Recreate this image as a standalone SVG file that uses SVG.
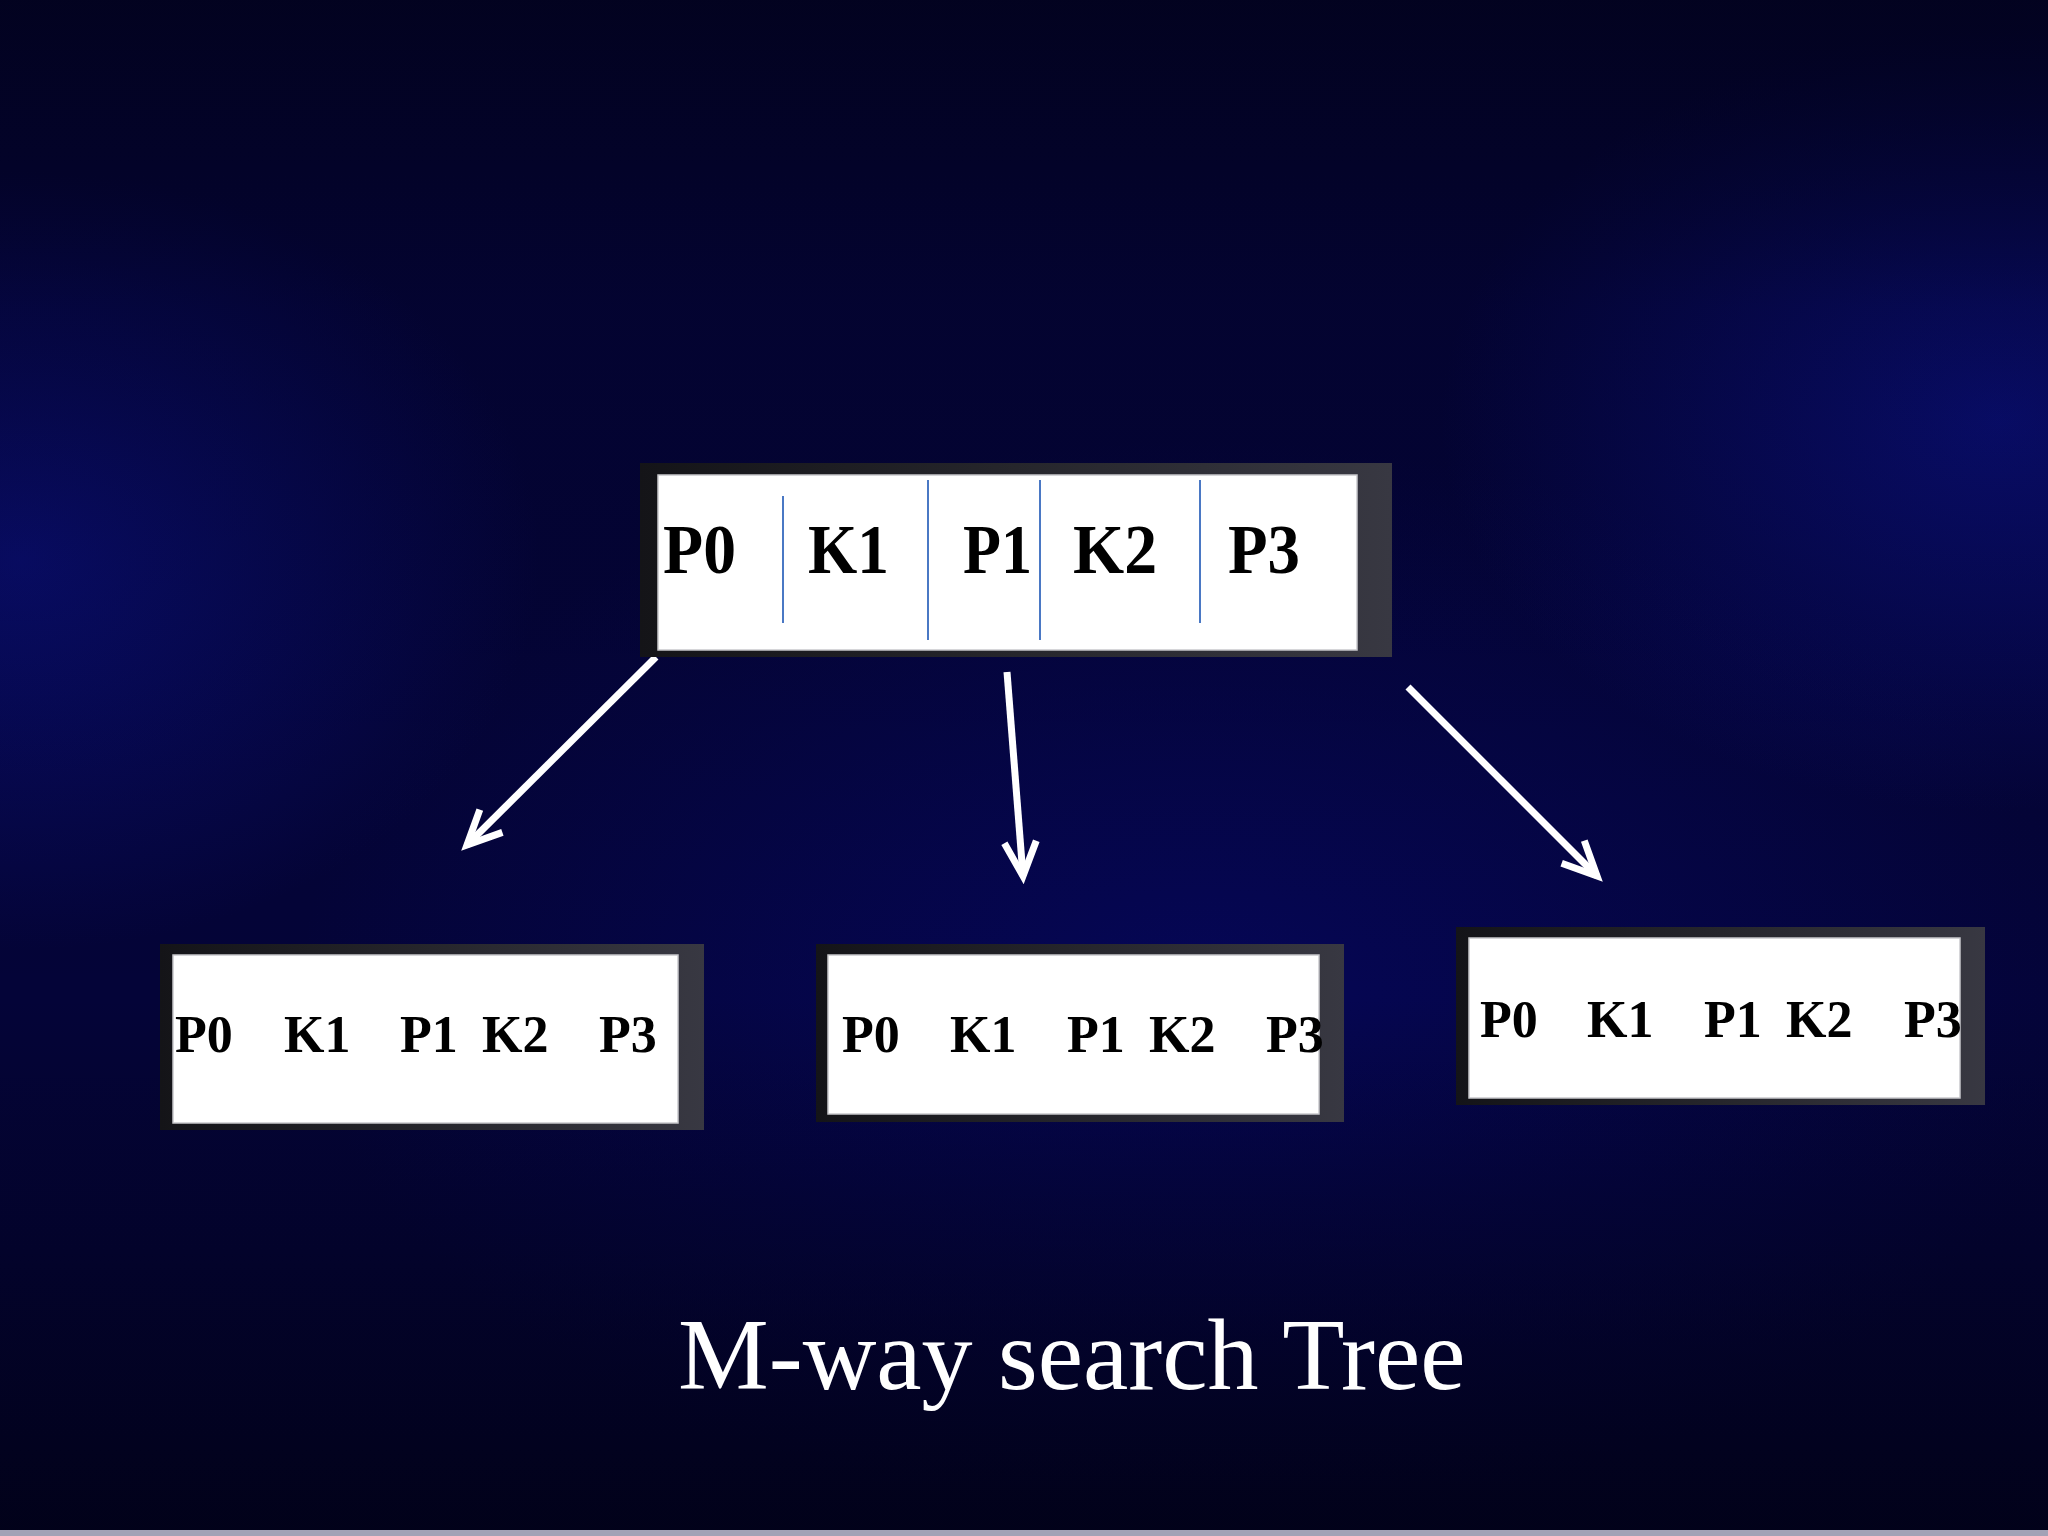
<svg xmlns="http://www.w3.org/2000/svg" width="2048" height="1536" viewBox="0 0 2048 1536">
  <defs>
    <style>
      .frame { fill: url(#frameGrad); }
      .inner { fill: #ffffff; stroke: #c8c8cc; stroke-width: 1.5; }
      .lbl { font-family: "Liberation Serif", "Times New Roman", serif; font-weight: bold; fill: #000000; }
      .top { font-size: 70px; }
      .child { font-size: 52px; }
      .sep { stroke: #4a78c4; stroke-width: 2; }
      .conn { stroke: #ffffff; stroke-width: 7; fill: none; marker-end: url(#arrowHead); }
      .title { font-family: "Liberation Serif", "Times New Roman", serif; font-size: 102px; fill: #ffffff; }
    </style>
    <linearGradient id="frameGrad" x1="0" y1="0" x2="1" y2="0">
      <stop offset="0" stop-color="#141418"/>
      <stop offset="0.5" stop-color="#26262c"/>
      <stop offset="1" stop-color="#383842"/>
    </linearGradient>
    <radialGradient id="glowLeft" gradientUnits="userSpaceOnUse" cx="20" cy="560" r="520" gradientTransform="translate(20 560) scale(1 0.75) translate(-20 -560)">
      <stop offset="0" stop-color="#0b1184" stop-opacity="0.7"/>
      <stop offset="1" stop-color="#0b1184" stop-opacity="0"/>
    </radialGradient>
    <radialGradient id="glowRight" gradientUnits="userSpaceOnUse" cx="2000" cy="420" r="560" gradientTransform="translate(2000 420) scale(1 0.7) translate(-2000 -420)">
      <stop offset="0" stop-color="#0c1392" stop-opacity="0.7"/>
      <stop offset="1" stop-color="#0c1392" stop-opacity="0"/>
    </radialGradient>
    <radialGradient id="glowMid" gradientUnits="userSpaceOnUse" cx="1200" cy="980" r="900" gradientTransform="translate(1200 980) scale(1 0.6) translate(-1200 -980)">
      <stop offset="0" stop-color="#06086a" stop-opacity="0.6"/>
      <stop offset="1" stop-color="#06086a" stop-opacity="0"/>
    </radialGradient>
    <linearGradient id="darkTop" x1="0" y1="0" x2="0" y2="1">
      <stop offset="0" stop-color="#02021a" stop-opacity="0.8"/>
      <stop offset="0.2" stop-color="#02021a" stop-opacity="0.25"/>
      <stop offset="0.65" stop-color="#02021a" stop-opacity="0"/>
      <stop offset="1" stop-color="#010114" stop-opacity="0.85"/>
    </linearGradient>
    <marker id="arrowHead" markerUnits="userSpaceOnUse" viewBox="-44 -26 52 52" markerWidth="52" markerHeight="52" refX="0" refY="0" orient="auto">
      <path d="M-34,-16 L0,0 L-34,16" fill="none" stroke="#ffffff" stroke-width="7" stroke-linejoin="miter"/>
    </marker>
  </defs>

  <g id="background">
    <rect x="0" y="0" width="2048" height="1536" fill="#040438"/>
    <rect x="0" y="0" width="2048" height="1536" fill="url(#glowMid)"/>
    <rect x="0" y="0" width="2048" height="1536" fill="url(#glowLeft)"/>
    <rect x="0" y="0" width="2048" height="1536" fill="url(#glowRight)"/>
    <rect x="0" y="0" width="2048" height="1536" fill="url(#darkTop)"/>
    <rect x="0" y="1530" width="2048" height="6" fill="#a2a2b6"/>
  </g>

  <g id="connectors">
    <line class="conn" x1="656" y1="657" x2="467" y2="845"/>
    <line class="conn" x1="1007" y1="672" x2="1023" y2="876"/>
    <line class="conn" x1="1408" y1="687" x2="1597" y2="876"/>
  </g>

  <g id="node-root">
    <rect class="frame" x="640" y="463" width="752" height="194"/>
    <rect class="inner" x="658" y="475" width="699" height="175"/>
    <line class="sep" x1="783" y1="496" x2="783" y2="623"/>
    <line class="sep" x1="928" y1="480" x2="928" y2="640"/>
    <line class="sep" x1="1040" y1="480" x2="1040" y2="640"/>
    <line class="sep" x1="1200" y1="480" x2="1200" y2="623"/>
    <text class="lbl top" x="663" y="573" textLength="73" lengthAdjust="spacingAndGlyphs">P0</text>
    <text class="lbl top" x="808" y="573" textLength="81" lengthAdjust="spacingAndGlyphs">K1</text>
    <text class="lbl top" x="963" y="573" textLength="69" lengthAdjust="spacingAndGlyphs">P1</text>
    <text class="lbl top" x="1073" y="573" textLength="84" lengthAdjust="spacingAndGlyphs">K2</text>
    <text class="lbl top" x="1228" y="573" textLength="72" lengthAdjust="spacingAndGlyphs">P3</text>
  </g>

  <g id="node-left">
    <rect class="frame" x="160" y="944" width="544" height="186"/>
    <rect class="inner" x="173" y="955" width="505" height="168"/>
    <text class="lbl child" x="175" y="1052">P0</text>
    <text class="lbl child" x="284" y="1052">K1</text>
    <text class="lbl child" x="400" y="1052">P1</text>
    <text class="lbl child" x="482" y="1052">K2</text>
    <text class="lbl child" x="599" y="1052">P3</text>
  </g>

  <g id="node-middle">
    <rect class="frame" x="816" y="944" width="528" height="178"/>
    <rect class="inner" x="828" y="955" width="491" height="159"/>
    <text class="lbl child" x="842" y="1052">P0</text>
    <text class="lbl child" x="950" y="1052">K1</text>
    <text class="lbl child" x="1067" y="1052">P1</text>
    <text class="lbl child" x="1149" y="1052">K2</text>
    <text class="lbl child" x="1266" y="1052">P3</text>
  </g>

  <g id="node-right">
    <rect class="frame" x="1456" y="927" width="529" height="178"/>
    <rect class="inner" x="1469" y="938" width="491" height="160"/>
    <text class="lbl child" x="1480" y="1037">P0</text>
    <text class="lbl child" x="1587" y="1037">K1</text>
    <text class="lbl child" x="1704" y="1037">P1</text>
    <text class="lbl child" x="1786" y="1037">K2</text>
    <text class="lbl child" x="1904" y="1037">P3</text>
  </g>

  <g id="title">
    <text class="title" x="678" y="1389">M-way search Tree</text>
  </g>
</svg>
